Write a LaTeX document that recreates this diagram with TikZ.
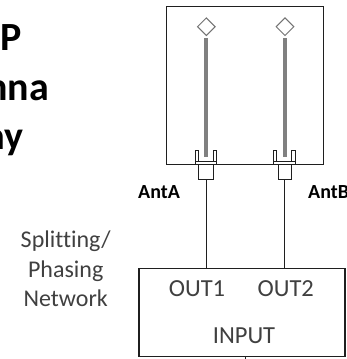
\documentclass[tikz,border=0pt]{standalone}
\usepackage{fontspec}
\setmainfont{Carlito}[Ligatures=NoCommon]
\usetikzlibrary{shapes.geometric}
\definecolor{ink}{gray}{0.12}
\tikzset{
  x=1pt,y=-1pt,
  box/.style={draw=ink,line width=1.1pt,minimum width=0pt,minimum height=0pt,inner sep=0pt,rectangle},
  thinbox/.style={draw=ink,line width=1pt,inner sep=0pt,rectangle},
  feed/.style={draw=ink,line width=1pt},
  element/.style={draw=black!55,line width=1pt,diamond,minimum width=18pt,minimum height=18pt,inner sep=0pt},
  radiator/.style={draw=none,fill=black!50,minimum width=4.6pt,inner sep=0pt,rectangle},
  title/.style={font=\fontsize{40}{40}\selectfont\bfseries,anchor=base east,inner sep=0pt},
  lab/.style={font=\fontsize{20}{20}\selectfont\bfseries,anchor=base west,inner sep=0pt},
  side/.style={font=\fontsize{24}{24}\selectfont,anchor=base,inner sep=0pt,text=ink!85!white},
  port/.style={font=\fontsize{24.5}{24.5}\selectfont,anchor=base,inner sep=0pt,text=ink!85!white},
}
\begin{document}
\begin{tikzpicture}
\useasboundingbox (0,0) rectangle (347,359);
\clip (0,0) rectangle (347,359);
\fill[white] (0,0) rectangle (347,359);
% title fragments
\node[title] (t1) at (22,50) {P};
\node[title] (t2) at (49,100) {nna};
\node[title] (t3) at (23.5,149) {ay};
% array box
\node[box,minimum width=157pt,minimum height=158pt] (arr) at (245.2,85.5) {};
% elements
\node[element] (d1) at (206.3,26.7) {};
\node[element] (d2) at (285,26.7) {};
\node[radiator,minimum height=119pt] (r1) at (206,97.5) {};
\node[radiator,minimum height=119pt] (r2) at (285,97.5) {};
% connectors
\node[thinbox,minimum width=14.5pt,minimum height=15pt] (c1) at (206,172.3) {};
\node[thinbox,minimum width=12.5pt,minimum height=15pt] (c2) at (284.8,172.3) {};
\foreach \cx/\hw in {205.8/10.8,284.2/10.8}{
  \draw[thinbox] (\cx-\hw,161.7) -- (\cx-\hw,150.7) -- (\cx-\hw+3.4,150.7) -- (\cx-\hw+3.4,161.7)
                 (\cx+\hw,161.7) -- (\cx+\hw,150.7) -- (\cx+\hw-3.4,150.7) -- (\cx+\hw-3.4,161.7)
                 (\cx-\hw,161.7) -- (\cx+\hw,161.7)
                 (\cx-\hw,161.7) -- (\cx-\hw,164.5) (\cx+\hw,161.7) -- (\cx+\hw,164.5);
}
% network
\node[box,minimum width=206pt,minimum height=88.4pt] (net) at (242,312.5) {};
\coordinate (tick) at (245.7,359);
\draw[feed] (c1.south) -- (c1.south |- net.north);
\draw[feed] (c2.south) -- (c2.south |- net.north);
\draw[feed] (tick |- net.south) -- (tick);
% labels
\node[lab] (aa) at (138,198) {AntA};
\node[lab] (ab) at (308,198) {AntB};
\node[side] (s1) at (65.7,247) {Splitting/};
\node[side] (s2) at (65.7,277) {Phasing};
\node[side] (s3) at (65.7,306) {Network};
\node[port] (o1) at (197,296.7) {OUT1};
\node[port] (o2) at (285.7,296.7) {OUT2};
\node[port] (in) at (244,343) {INPUT};
\end{tikzpicture}
\end{document}
